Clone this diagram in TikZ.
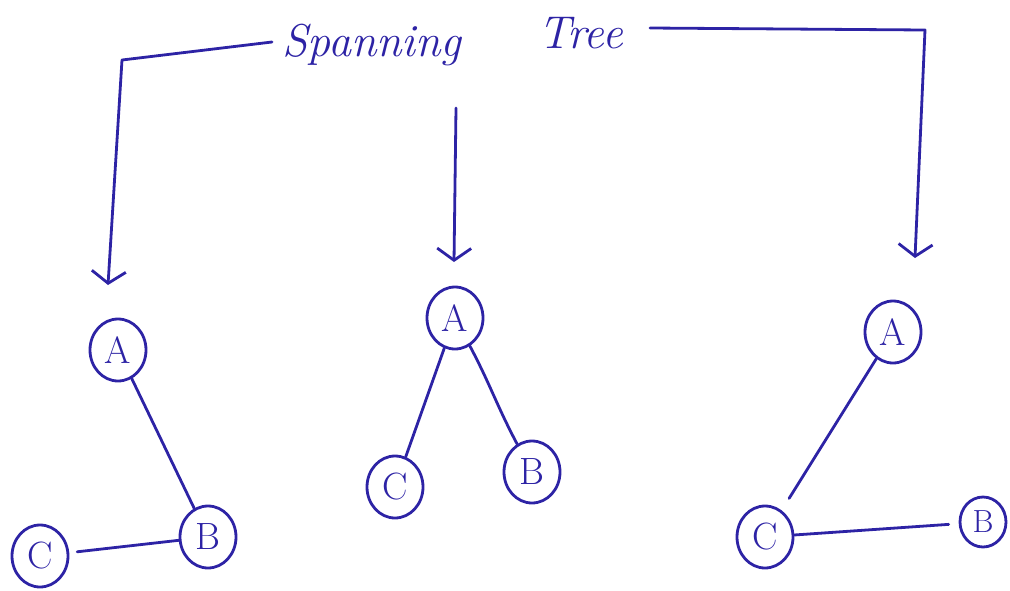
\documentclass[tikz,border=0pt]{standalone}
\usetikzlibrary{arrows.meta,shapes.geometric}
\definecolor{ink}{RGB}{45,35,165}
\begin{document}
\begin{tikzpicture}[x=1pt,y=-1pt,
  inkline/.style={draw=ink,line width=2.8pt,line cap=round,line join=round},
  vertex/.style={ellipse,draw=ink,line width=2.8pt,minimum width=56pt,minimum height=62pt,
    inner sep=0pt,text=ink,font=\fontsize{38}{38}\selectfont},
  smallvertex/.style={vertex,minimum width=46pt,minimum height=50pt,font=\fontsize{32}{32}\selectfont},
  pointer/.style={inkline,-{Straight Barb[length=12pt,width=34pt,line width=2.8pt]}},
  title/.style={text=ink,font=\itshape\fontsize{46}{46}\selectfont,inner sep=0pt}]
\useasboundingbox (0,0) rectangle (1010,590);

% heading
\node[title,anchor=base west] (span) at (282,56) {Spanning};
\node[title,anchor=base west] (tree) at (538,48) {Tree};

% pointers from the heading down to each tree
\coordinate (lstart) at (272,42);
\coordinate (lbend) at (122,60);
\coordinate (lend) at (108,285);
\coordinate (mstart) at (456,108);
\coordinate (mend) at (454,262);
\coordinate (rstart) at (650,28);
\coordinate (rbend) at (925,30);
\coordinate (rend) at (915,258);
\draw[pointer] (lstart) -- (lbend) -- (lend);
\draw[pointer] (mstart) -- (mend);
\draw[pointer] (rstart) -- (rbend) -- (rend);

% first tree: A - B - C
\node[vertex] (A1) at (118,350) {A};
\node[vertex] (B1) at (208,537) {B};
\node[vertex] (C1) at (40,556) {C};
\draw[inkline] (A1) -- (B1);
\draw[inkline,shorten <=8pt] (C1) -- (B1);

% second tree: A with children C and B
\node[vertex] (A2) at (455,318) {A};
\node[vertex] (C2) at (395,487) {C};
\node[vertex] (B2) at (532,472) {B};
\draw[inkline] (A2) -- (C2);
\draw[inkline] (A2) to[out=-62,in=118] (B2);

% third tree: A - C - B
\node[vertex] (A3) at (893,332) {A};
\node[vertex] (C3) at (765,537) {C};
\node[smallvertex] (B3) at (983,522) {B};
\draw[inkline,shorten >=14pt] (A3) -- (C3);
\draw[inkline,shorten >=10pt] (C3) -- (B3);
\end{tikzpicture}
\end{document}
